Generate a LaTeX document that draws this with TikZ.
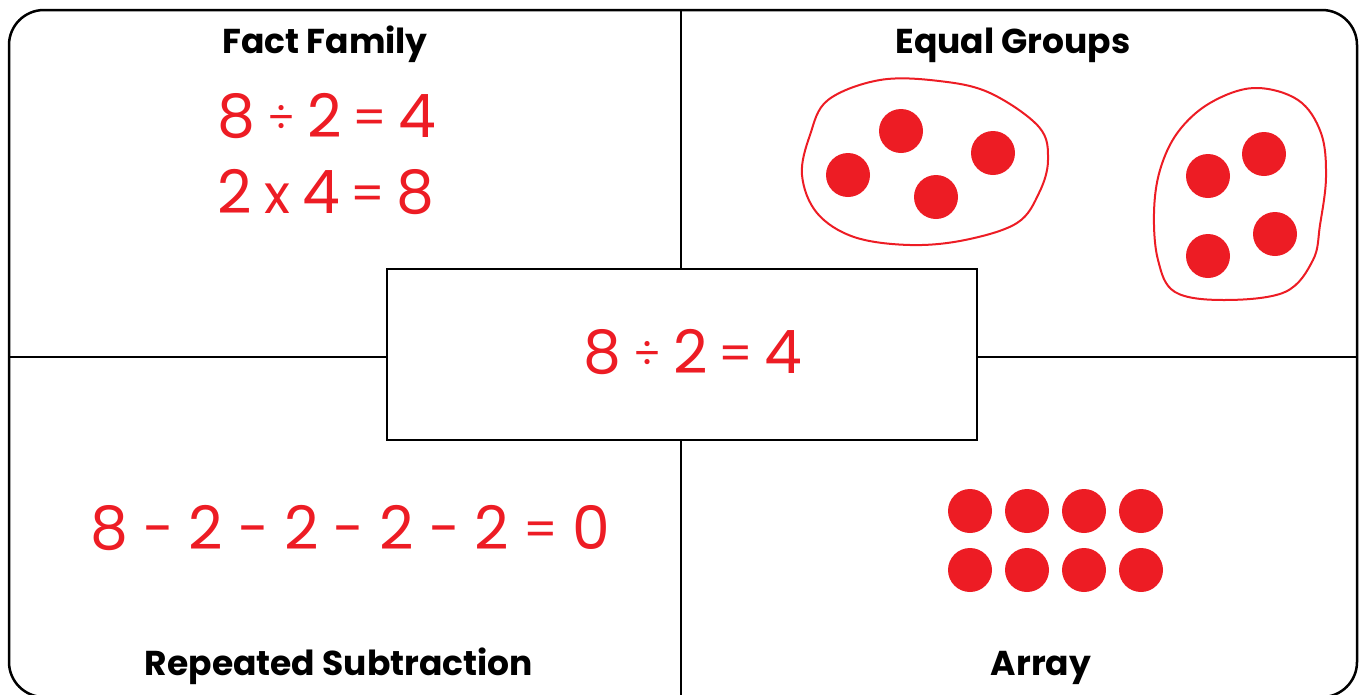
\documentclass[tikz,border=0pt]{standalone}
\usepackage{fontspec}
\setmainfont{Poppins}
\definecolor{rd}{HTML}{ED1C24}
% operator: #1 gap, #2 size, #3 raise, #4 char
\newcommand\rop[4]{\hspace{#1pt}\raisebox{#3pt}{\fontsize{#2}{#2}\selectfont #4}\hspace{#1pt}}
\newcommand\dv{\rop{12}{42}{5}{÷}}
\newcommand\eq[1]{\rop{#1}{48}{3}{=}}
\newcommand\tm{\rop{12}{54}{0}{x}}
\newcommand\mn{\rop{15}{56}{1}{-}}
\begin{document}
\begin{tikzpicture}[x=1pt,y=-1pt,
 title/.style={font=\fontsize{34.5}{36}\selectfont\bfseries, inner sep=0pt, anchor=base},
 redtxt/.style={text=rd, font=\fontsize{60}{60}\selectfont, inner sep=0pt, anchor=base},
 dot/.style={circle, fill=rd, minimum size=44pt, inner sep=0pt},
 blob/.style={draw=rd, line width=2pt},
 divider/.style={line width=2pt}]
\useasboundingbox (0,0) rectangle (1361,694);
% dividers
\draw[divider] (681,10) -- (681,696);
\draw[divider] (9,357) -- (1357,357);
% outer frame
\draw[line width=2.5pt, rounded corners=35pt] (9,10) rectangle (1357,697);
% center box
\node[draw, fill=white, line width=2.5pt, minimum width=590pt, minimum height=171pt, inner sep=0pt] (box) at (682,354.5) {};
\node[redtxt] (mid) at (693,373) {8\dv2\eq{11}4};
% Fact family
\node[title] (ffT) at (325,53) {Fact Family};
\node[redtxt] (ff1) at (327,137) {8\dv2\eq{11}4};
\node[redtxt] (ff2) at (326,213) {2\tm4\eq{11}8};
% Repeated subtraction
\node[redtxt] (rs) at (350,549) {8\mn2\mn2\mn2\mn2\eq{14}0};
\node[title] (rsT) at (339,675) {Repeated Subtraction};
% Equal groups
\node[title] (egT) at (1013,53) {Equal Groups};
\draw[blob] plot[smooth cycle, tension=0.6] coordinates {
 (880,80) (939,81) (990,93) (1039,127) (1048,160) (1039,193) (1017,223)
 (965,240) (910,245) (854,237) (817,213) (802,175) (810,135) (828,100)};
\draw[blob] plot[smooth cycle, tension=0.6] coordinates {
 (1254,88) (1298,100) (1321,133) (1326,177) (1320,225) (1313,260) (1285,292)
 (1224,300) (1175,292) (1158,260) (1154,213) (1160,170) (1178,132) (1210,103)};
\node[dot] (g1) at (848,175) {};
\node[dot] (g2) at (901,131) {};
\node[dot] (g3) at (993,153) {};
\node[dot] (g4) at (936,197) {};
\node[dot] (h1) at (1208,176) {};
\node[dot] (h2) at (1264,154) {};
\node[dot] (h3) at (1275,234) {};
\node[dot] (h4) at (1208,256) {};
% Array
\node[title] (arT) at (1041,675) {Array};
\foreach \i/\x in {1/970,2/1027,3/1084,4/1141} {
  \node[dot] (a\i) at (\x,511) {};
  \node[dot] (b\i) at (\x,570) {};
}
\end{tikzpicture}
\end{document}
